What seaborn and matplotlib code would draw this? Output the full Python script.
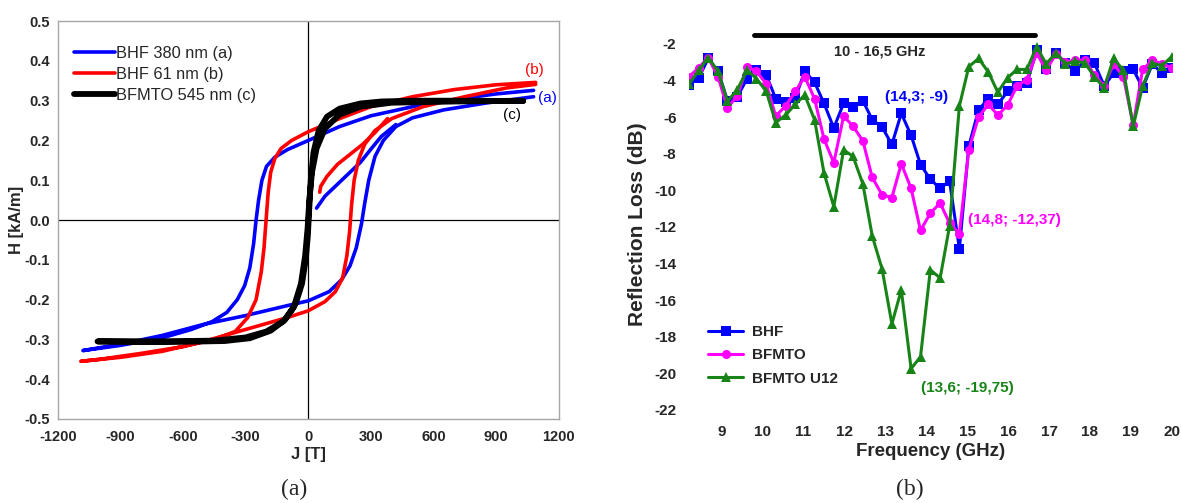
import numpy as np
import pandas as pd
import matplotlib
matplotlib.use("Agg")
import matplotlib.pyplot as plt
import seaborn as sns

# ---------------- Panel (a): hysteresis loops ----------------
bhf380_up_J = [1080, 900, 700, 500, 300, 150, 0, -100, -160, -200, -222, -238, -250, -262, -280, -305, -340, -390, -460, -560, -700, -900, -1080]
bhf380_up_H = [0.326, 0.317, 0.303, 0.285, 0.262, 0.235, 0.2, 0.177, 0.158, 0.135, 0.1, 0.05, 0.0, -0.06, -0.12, -0.165, -0.2, -0.232, -0.255, -0.275, -0.296, -0.315, -0.328]
bhf380_lo_J = [-1080, -900, -700, -500, -300, -100, 0, 100, 160, 200, 230, 255, 270, 290, 320, 360, 420, 500, 650, 850, 1080]
bhf380_lo_H = [-0.328, -0.312, -0.29, -0.262, -0.24, -0.215, -0.203, -0.18, -0.15, -0.115, -0.07, -0.01, 0.04, 0.1, 0.16, 0.2, 0.235, 0.257, 0.277, 0.294, 0.31]
bhf380_ini_J = [40, 80, 140, 200, 250, 300, 350, 420]
bhf380_ini_H = [0.03, 0.06, 0.09, 0.12, 0.145, 0.178, 0.21, 0.24]

bhf61_up_J = [1090, 900, 700, 500, 300, 150, 0, -80, -130, -160, -180, -192, -202, -212, -225, -250, -290, -350, -450, -600, -800, -1000, -1090]
bhf61_up_H = [0.346, 0.34, 0.328, 0.31, 0.285, 0.255, 0.222, 0.2, 0.18, 0.155, 0.12, 0.07, 0.0, -0.07, -0.13, -0.2, -0.245, -0.28, -0.3, -0.318, -0.335, -0.35, -0.355]
bhf61_lo_J = [-1090, -900, -700, -500, -300, -100, 0, 80, 130, 165, 185, 198, 208, 220, 240, 270, 320, 400, 550, 750, 950, 1090]
bhf61_lo_H = [-0.355, -0.345, -0.33, -0.305, -0.275, -0.245, -0.228, -0.205, -0.18, -0.145, -0.09, -0.03, 0.04, 0.1, 0.15, 0.19, 0.225, 0.255, 0.285, 0.31, 0.332, 0.341]
bhf61_ini_J = [55, 60, 90, 140, 200, 260, 320, 380]
bhf61_ini_H = [0.07, 0.085, 0.11, 0.14, 0.165, 0.19, 0.22, 0.255]

bfmto_up_J = [1030, 700, 500, 350, 250, 150, 90, 50, 25, 12, 5, -2, -12, -30, -60, -110, -180, -280, -400, -600, -800, -1010]
bfmto_up_H = [0.299, 0.3, 0.3, 0.298, 0.293, 0.28, 0.26, 0.225, 0.17, 0.1, 0.03, -0.04, -0.1, -0.16, -0.21, -0.25, -0.278, -0.297, -0.304, -0.306, -0.306, -0.305]
bfmto_lo_J = [-1010, -700, -450, -300, -200, -120, -70, -35, -15, -3, 5, 18, 40, 80, 150, 250, 400, 700, 1030]
bfmto_lo_H = [-0.305, -0.305, -0.303, -0.295, -0.28, -0.255, -0.22, -0.16, -0.09, -0.02, 0.05, 0.12, 0.18, 0.23, 0.265, 0.285, 0.295, 0.298, 0.3]

loop_names = ["BHF 380 nm (a)", "BHF 61 nm (b)", "BFMTO 545 nm (c)"]
loop_colors = ["#0000FF", "#FF0000", "#000000"]
loop_widths = [2.6, 2.6, 4.2]
left_xticks = [-1200, -900, -600, -300, 0, 300, 600, 900, 1200]
left_yticks = [0.5, 0.4, 0.3, 0.2, 0.1, 0.0, -0.1, -0.2, -0.3, -0.4, -0.5]

# ---------------- Panel (b): reflection loss ----------------
freq = [8.2, 8.44, 8.67, 8.91, 9.14, 9.38, 9.62, 9.85, 10.09, 10.32, 10.56, 10.8, 11.03, 11.27, 11.5,
        11.74, 11.98, 12.21, 12.45, 12.68, 12.92, 13.16, 13.39, 13.63, 13.86, 14.1, 14.34, 14.57, 14.81,
        15.04, 15.28, 15.52, 15.75, 15.99, 16.22, 16.46, 16.7, 16.93, 17.17, 17.4, 17.64, 17.88, 18.11,
        18.35, 18.58, 18.82, 19.06, 19.29, 19.53, 19.76, 20.0]
rl_bhf = [-4.25, -3.85, -2.8, -3.5, -5.1, -4.9, -3.9, -3.45, -3.7, -5.0, -5.2, -4.95, -3.5, -4.1, -5.25,
          -6.6, -5.25, -5.45, -5.1, -6.15, -6.55, -7.5, -5.8, -7.0, -8.6, -9.4, -9.9, -9.5, -13.2,
          -7.6, -5.6, -5.0, -5.3, -4.6, -4.3, -4.15, -2.35, -3.4, -2.5, -3.05, -3.5, -2.9, -3.05,
          -4.3, -3.6, -3.5, -3.4, -4.4, -3.1, -3.6, -3.3]
rl_bfmto = [-3.8, -3.3, -2.75, -3.8, -5.5, -4.85, -3.25, -3.5, -4.2, -5.95, -5.4, -4.6, -3.8, -5.0, -7.2,
            -8.5, -5.95, -6.5, -7.3, -9.3, -10.25, -10.4, -8.55, -9.9, -12.2, -11.25, -10.7, -11.8, -12.37,
            -7.8, -6.0, -5.3, -5.9, -5.35, -4.3, -3.95, -2.5, -3.45, -2.55, -3.0, -2.9, -2.9, -3.7,
            -4.3, -3.1, -3.8, -6.45, -3.4, -2.9, -3.1, -3.3]
rl_u12 = [-4.2, -3.45, -2.75, -3.5, -5.15, -4.5, -3.45, -3.9, -4.6, -6.3, -5.9, -5.3, -4.8, -6.15, -9.05,
          -10.9, -7.8, -8.15, -9.65, -12.5, -14.3, -17.3, -15.45, -19.75, -19.1, -14.35, -14.8, -11.95, -5.4,
          -3.25, -2.8, -3.55, -4.65, -3.85, -3.4, -3.4, -2.15, -3.1, -2.5, -3.1, -2.95, -3.05, -3.8,
          -4.4, -2.8, -3.45, -6.5, -4.3, -3.05, -3.2, -2.7]
rl_names = ["BHF", "BFMTO", "BFMTO U12"]
rl_colors = ["#0000FF", "#FF00FF", "#188418"]
rl_markers = ["s", "o", "^"]
right_xticks = [9, 10, 11, 12, 13, 14, 15, 16, 17, 18, 19, 20]
right_yticks = [-2, -4, -6, -8, -10, -12, -14, -16, -18, -20, -22]
band_range = [9.8, 16.65]
band_level = -1.5
band_text = "10 - 16,5 GHz"
peak_texts = ["(14,3; -9)", "(14,8; -12,37)", "(13,6; -19,75)"]

sns.set_theme(style="white")
plt.rcParams['font.family'] = ['Liberation Sans', 'DejaVu Sans']
plt.rcParams['axes.unicode_minus'] = False

fig = plt.figure(figsize=(11.81, 5.03), dpi=100)
axL = fig.add_axes([0.049, 0.167, 0.424, 0.791])
axR = fig.add_axes([0.5834, 0.167, 0.4087, 0.775])

# ---- left panel
loops = [
    (bhf380_up_J, bhf380_up_H, bhf380_lo_J, bhf380_lo_H, bhf380_ini_J, bhf380_ini_H),
    (bhf61_up_J, bhf61_up_H, bhf61_lo_J, bhf61_lo_H, bhf61_ini_J, bhf61_ini_H),
    (bfmto_up_J, bfmto_up_H, bfmto_lo_J, bfmto_lo_H, None, None),
]
axL.axhline(0, color="black", lw=0.9, zorder=1)
axL.axvline(0, color="black", lw=0.9, zorder=1)
for (uJ, uH, lJ, lH, iJ, iH), name, col, lw in zip(loops, loop_names, loop_colors, loop_widths):
    df = pd.DataFrame({"J": uJ + lJ, "H": uH + lH})
    sns.lineplot(data=df, x="J", y="H", sort=False, estimator=None, color=col, lw=lw,
                 ax=axL, label=name, zorder=3)
    if iJ is not None:
        dfi = pd.DataFrame({"J": iJ, "H": iH})
        sns.lineplot(data=dfi, x="J", y="H", sort=False, estimator=None, color=col, lw=lw,
                     ax=axL, zorder=3)
axL.set_xlim(-1200, 1200)
axL.set_ylim(-0.5, 0.5)
axL.set_xticks(left_xticks, [str(v) for v in left_xticks], fontweight="bold", fontsize=10.5)
axL.set_yticks(left_yticks, [f"{v:.1f}" for v in left_yticks], fontweight="bold", fontsize=10.5)
axL.tick_params(axis="both", length=0)
axL.tick_params(axis="x", pad=8)
axL.tick_params(axis="y", pad=6)
for sp in axL.spines.values():
    sp.set_color("#a6a6a6")
    sp.set_linewidth(1.0)
axL.set_xlabel("J [T]", fontsize=12, fontweight="bold", labelpad=2)
axL.set_ylabel("H [kA/m]", fontsize=12, fontweight="bold", labelpad=0)
legL = axL.legend(loc="upper left", bbox_to_anchor=(0.02, 0.955), frameon=False, fontsize=11.8,
                  handlelength=2.45, handletextpad=0.1, labelspacing=0.37, borderaxespad=0)
axL.text(1085, 0.378, "(b)", color="#FF0000", fontsize=11, ha="center", va="center")
axL.text(1148, 0.307, "(a)", color="#0000FF", fontsize=11, ha="center", va="center")
axL.text(975, 0.263, "(c)", color="#000000", fontsize=11, ha="center", va="center")

# ---- right panel
for vals, name, col, mk in zip([rl_bhf, rl_bfmto, rl_u12], rl_names, rl_colors, rl_markers):
    df = pd.DataFrame({"f": freq, "rl": vals})
    sns.lineplot(data=df, x="f", y="rl", sort=False, estimator=None, color=col, lw=2.2,
                 marker=mk, markersize=6.5, markeredgewidth=0, ax=axR, label=name, zorder=3)
axR.set_xlim(8.2, 20)
axR.set_ylim(-22.5, -1.2)
axR.set_xticks(right_xticks, [str(v) for v in right_xticks], fontweight="bold", fontsize=11)
axR.set_yticks(right_yticks, [str(v) for v in right_yticks], fontweight="bold", fontsize=11)
axR.tick_params(axis="both", length=0)
axR.tick_params(axis="x", pad=4)
axR.tick_params(axis="y", pad=9)
for sp in axR.spines.values():
    sp.set_visible(False)
axR.set_xlabel("Frequency (GHz)", fontsize=13.5, fontweight="bold", labelpad=3)
axR.set_ylabel("Reflection Loss (dB)", fontsize=15, fontweight="bold", labelpad=5)
axR.plot(band_range, [band_level, band_level], color="black", lw=3.5, clip_on=False, zorder=4)
axR.text(12.87, -2.4, band_text, fontsize=10.5, fontweight="bold", ha="center", va="center")
axR.text(13.77, -4.9, peak_texts[0], color="#0000FF", fontsize=11, fontweight="bold", ha="center", va="center")
axR.text(15.03, -11.64, peak_texts[1], color="#FF00FF", fontsize=11, fontweight="bold", ha="left", va="center")
axR.text(13.86, -20.8, peak_texts[2], color="#188418", fontsize=11, fontweight="bold", ha="left", va="center")
legR = axR.legend(loc="lower left", bbox_to_anchor=(0.027, 0.07), frameon=False,
                  handlelength=2.3, handletextpad=0.6, labelspacing=0.6, borderaxespad=0,
                  prop={"size": 11, "weight": "bold"})

fig.text(0.249, 0.026, "(a)", fontsize=17, family=["Liberation Serif", "DejaVu Serif"], ha="center", va="center")
fig.text(0.770, 0.026, "(b)", fontsize=17, family=["Liberation Serif", "DejaVu Serif"], ha="center", va="center")

fig.savefig("out.png", dpi=100)
